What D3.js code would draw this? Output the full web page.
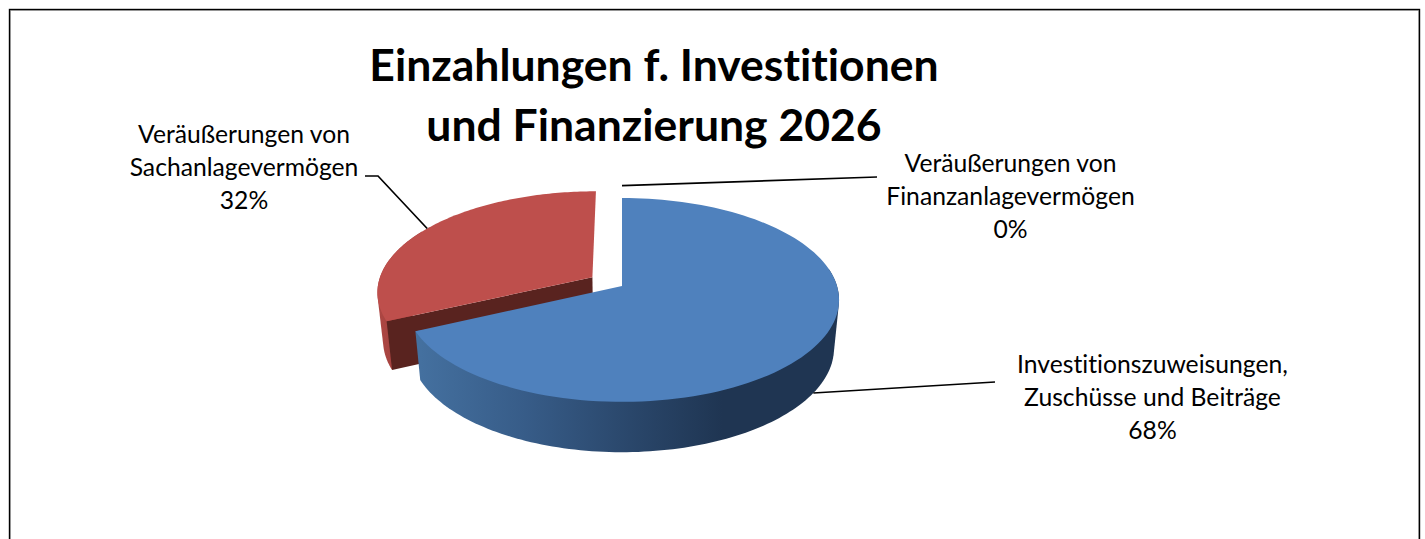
<!DOCTYPE html>
<html lang="de">
<head>
<meta charset="utf-8">
<title>Einzahlungen f. Investitionen und Finanzierung 2026</title>
<script src="https://cdn.jsdelivr.net/npm/d3@7"></script>
<style>
  html, body { margin: 0; padding: 0; background: #fff; overflow: hidden; }
  svg { display: block; }
  text { font-family: Lato, "Noto Sans", sans-serif; fill: #000; text-anchor: middle; font-variant-ligatures: none; }
  .titel { font-size: 44.5px; font-weight: 700; }
  .etikett { font-size: 24.7px; }
</style>
</head>
<body>
<svg id="chart" width="1425" height="539"></svg>
<script>
const titleLines = ['Einzahlungen f. Investitionen', 'und Finanzierung 2026'];
const categories = [
  'Investitionszuweisungen, Zuschüsse und Beiträge',
  'Veräußerungen von Sachanlagevermögen',
  'Veräußerungen von Finanzanlagevermögen'
];
const shares = [68, 32, 0];
const labelLines = [
  ['Investitionszuweisungen,', 'Zuschüsse und Beiträge', '68%'],
  ['Veräußerungen von', 'Sachanlagevermögen', '32%'],
  ['Veräußerungen von', 'Finanzanlagevermögen', '0%']
];

// Geometrie der perspektivischen Torte
const CX = 622;
const TIEFE_K = 0.137;
const OBEN = { a: 286, b: 100, r: 215 };
const UNTEN = { a: 334, b: 102, r: 210 };
const EXPLODE = [0, 0.165, 0.165];
// sichtbarer Teil der Außenwand (Grad im Uhrzeigersinn ab oben)
const WAND_BEREICH = [[80, 244.8], [244.8, 300]];

// Position der Etiketten (Mitte, erste Grundlinie) und Knick der Führungslinie
const LABEL_POS = [
  { x: 1152.5, y: 373, ende: [[995, 382]] },
  { x: 244, y: 143, ende: [[378, 176], [365, 176]] },
  { x: 1010.5, y: 172, ende: [[877, 177]] }
];
const LINE_H = 33;

const FARBEN = ['#4F81BD', '#BE4F4C'];
const SCHNITT = '#59231F';

const svg = d3.select('#chart');
const defs = svg.append('defs');

function verlauf(id, x1, x2, stops) {
  const g = defs.append('linearGradient')
    .attr('id', id)
    .attr('gradientUnits', 'userSpaceOnUse')
    .attr('x1', x1).attr('x2', x2).attr('y1', 0).attr('y2', 0);
  stops.forEach(([o, c]) => g.append('stop').attr('offset', o).attr('stop-color', c));
}
verlauf('wandBlau', 420, 840, [[0, '#44709F'], [0.25, '#375C88'], [0.5, '#2A476B'], [0.72, '#1F3552'], [1, '#1F3552']]);
verlauf('wandRot', 377, 430, [[0, '#AD4743'], [1, '#96393A']]);

// Rahmen
svg.append('rect').attr('x', 10.5).attr('y', 10.5).attr('width', 1408).attr('height', 560)
  .attr('fill', 'none').attr('stroke', '#bbb').attr('stroke-width', 1);
svg.append('rect').attr('x', 9.5).attr('y', 9.5).attr('width', 1410).attr('height', 560)
  .attr('fill', 'none').attr('stroke', '#000').attr('stroke-width', 1.4);

const scaleFor = (p) => ({
  x: d3.scaleLinear().domain([-1, 1]).range([CX - p.r, CX + p.r]),
  y: d3.scaleLinear().domain([-1, 1]).range([p.a - p.b, p.a + p.b])
});
const SCALES_OBEN = scaleFor(OBEN);
const SCALES_UNTEN = scaleFor(UNTEN);
const grad = d3.scaleLinear().domain([0, 360]).range([0, 2 * Math.PI]);

// Grundkreis-Koordinate auf die Bildebene abbilden
function projizieren(u, v, s) {
  const w = 1 - TIEFE_K * v;
  return [s.x(u / w), s.y(v / w)];
}

function aufKreis(t, radius, d, s) {
  const mitte = d.mid;
  const u = radius * Math.sin(t) + d.explode * Math.sin(mitte);
  const v = -radius * Math.cos(t) - d.explode * Math.cos(mitte);
  return projizieren(u, v, s);
}

function winkel(t0, t1) {
  const n = 120;
  return d3.range(n + 1).map((i) => t0 + (t1 - t0) * i / n);
}

const arcs = d3.pie().sort(null).value((d) => d).startAngle(0).endAngle(2 * Math.PI)(shares)
  .map((a, i) => ({ ...a, mid: (a.startAngle + a.endAngle) / 2, explode: EXPLODE[i], i }));

const linie = d3.line();

function zeichneScheibe(d) {
  const ts = winkel(d.startAngle, d.endAngle);
  const oben = ts.map((t) => aufKreis(t, 1, d, SCALES_OBEN));
  const mitteOben = aufKreis(0, 0, d, SCALES_OBEN);
  const mitteUnten = aufKreis(0, 0, d, SCALES_UNTEN);
  const g = svg.append('g');

  // Außenwand als Hülle aus oberem und unterem Rand
  const [von, bis] = WAND_BEREICH[d.i];
  const wandTs = winkel(grad(von), grad(bis));
  const wand = d3.polygonHull(
    wandTs.map((t) => aufKreis(t, 1, d, SCALES_OBEN))
      .concat(wandTs.map((t) => aufKreis(t, 1, d, SCALES_UNTEN)))
  );
  g.append('path')
    .attr('d', linie(wand) + 'Z')
    .attr('fill', d.i === 0 ? 'url(#wandBlau)' : 'url(#wandRot)');

  if (d.i === 1) {
    // Schnittfläche der herausgezogenen Scheibe
    g.append('path')
      .attr('d', linie([mitteOben, oben[0], aufKreis(d.startAngle, 1, d, SCALES_UNTEN), mitteUnten]) + 'Z')
      .attr('fill', SCHNITT);
  }

  g.append('path')
    .attr('d', linie([mitteOben].concat(oben)) + 'Z')
    .attr('fill', FARBEN[d.i]);
}

// Hintere Scheibe zuerst, die blaue verdeckt den Schnitt
[arcs[1], arcs[0]].forEach(zeichneScheibe);

// Führungslinien
arcs.forEach((d, i) => {
  const s = i === 0 ? SCALES_UNTEN : SCALES_OBEN;
  const start = aufKreis(d.mid, 1, d, s);
  svg.append('path')
    .attr('d', linie([start].concat(LABEL_POS[i].ende)))
    .attr('fill', 'none')
    .attr('stroke', '#000')
    .attr('stroke-width', 1.7);
});

// Titel
svg.append('g').selectAll('text').data(titleLines).join('text')
  .attr('class', 'titel')
  .attr('x', 654)
  .attr('y', (d, i) => 81 + i * 60)
  .text((d) => d);

// Etiketten
arcs.forEach((d, i) => {
  svg.append('g').selectAll('text').data(labelLines[i]).join('text')
    .attr('class', 'etikett')
    .attr('x', LABEL_POS[i].x)
    .attr('y', (t, j) => LABEL_POS[i].y + j * LINE_H)
    .text((t) => t);
});
</script>
</body>
</html>
